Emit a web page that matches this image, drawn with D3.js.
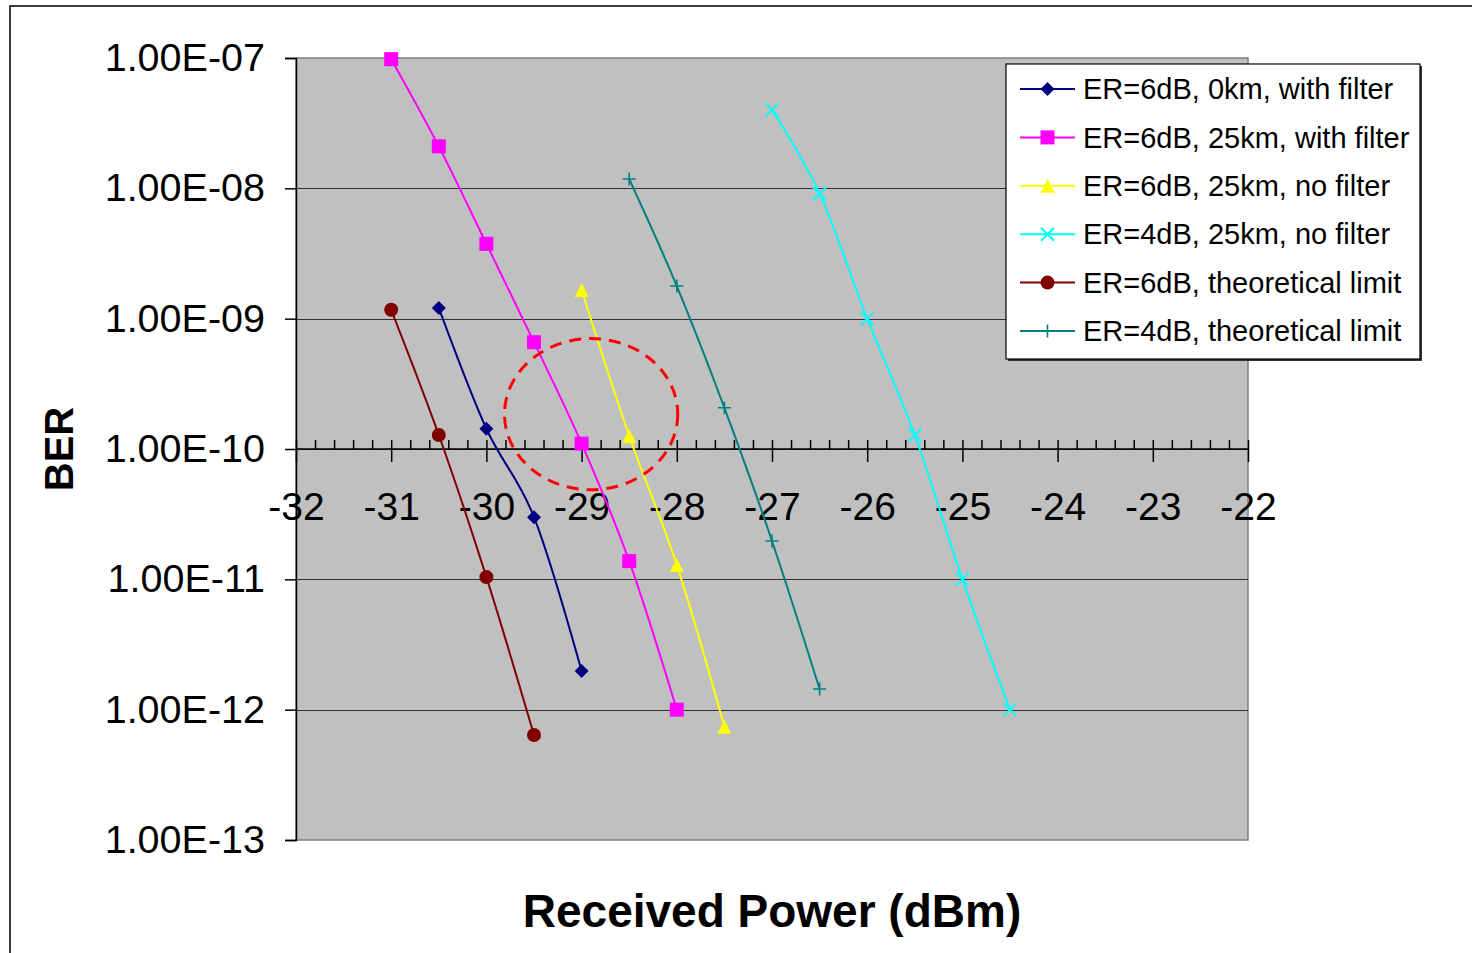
<!DOCTYPE html>
<html>
<head>
<meta charset="utf-8">
<script src="https://cdn.jsdelivr.net/npm/d3@7"></script>
<style>
  body { margin: 0; background: #fff; }
  svg { display: block; font-family: "Liberation Sans", Arial, sans-serif; }
</style>
</head>
<body>
<div id="chart"></div>
<script>
// received power (dBm) per series
const xTicks = [-32, -31, -30, -29, -28, -27, -26, -25, -24, -23, -22];
const yTicks = [1e-13, 1e-12, 1e-11, 1e-10, 1e-9, 1e-8, 1e-7];

const s0kmFilterX = [-30.5, -30, -29.5, -29];
const s0kmFilterY = [1.21e-9, 1.43e-10, 3.0e-11, 1.98e-12];

const s25kmFilterX = [-31, -30.5, -30, -29.5, -29, -28.5, -28];
const s25kmFilterY = [9.8e-8, 2.1e-8, 3.75e-9, 6.6e-10, 1.1e-10, 1.38e-11, 1.0e-12];

const s25kmNoFilterX = [-29, -28.5, -28, -27.5];
const s25kmNoFilterY = [1.66e-9, 1.26e-10, 1.29e-11, 7.4e-13];

const s4dbNoFilterX = [-27, -26.5, -26, -25.5, -25, -24.5];
const s4dbNoFilterY = [4.0e-8, 9.1e-9, 1.0e-9, 1.28e-10, 1.0e-11, 1.0e-12];

const s6dbLimitX = [-31, -30.5, -30, -29.5];
const s6dbLimitY = [1.17e-9, 1.28e-10, 1.04e-11, 6.4e-13];

const s4dbLimitX = [-28.5, -28, -27.5, -27, -26.5];
const s4dbLimitY = [1.18e-8, 1.78e-9, 2.07e-10, 1.97e-11, 1.44e-12];

const seriesNames = [
  "ER=6dB, 0km, with filter",
  "ER=6dB, 25km, with filter",
  "ER=6dB, 25km, no filter",
  "ER=4dB, 25km, no filter",
  "ER=6dB, theoretical limit",
  "ER=4dB, theoretical limit"
];

// dashed ellipse annotation, in data units
const circleCenter = [-28.9, 1.85e-10];

const series = [
  { name: seriesNames[0], xs: s0kmFilterX, ys: s0kmFilterY, color: "#000080", shape: "diamond" },
  { name: seriesNames[1], xs: s25kmFilterX, ys: s25kmFilterY, color: "#FF00FF", shape: "square" },
  { name: seriesNames[2], xs: s25kmNoFilterX, ys: s25kmNoFilterY, color: "#FFFF00", shape: "triangle" },
  { name: seriesNames[3], xs: s4dbNoFilterX, ys: s4dbNoFilterY, color: "#00FFFF", shape: "x" },
  { name: seriesNames[4], xs: s6dbLimitX, ys: s6dbLimitY, color: "#800000", shape: "circle" },
  { name: seriesNames[5], xs: s4dbLimitX, ys: s4dbLimitY, color: "#008080", shape: "plus" }
];

const width = 1472, height = 953;
const plot = { left: 296, right: 1248, top: 58, bottom: 840 };

const svg = d3.select("#chart").append("svg")
  .attr("width", width)
  .attr("height", height);

// outer chart frame (runs off the page right and bottom)
svg.append("path")
  .attr("d", "M10," + height + " V6 H" + width)
  .attr("fill", "none")
  .attr("stroke", "#000")
  .attr("stroke-width", 1.5);

const x = d3.scaleLinear().domain([-32, -22]).range([plot.left, plot.right]);
const y = d3.scaleLog().domain([1e-13, 1e-7]).range([plot.bottom, plot.top]);

// plot area
svg.append("rect")
  .attr("x", plot.left)
  .attr("y", plot.top)
  .attr("width", plot.right - plot.left)
  .attr("height", plot.bottom - plot.top)
  .attr("fill", "#C0C0C0")
  .attr("stroke", "#808080")
  .attr("stroke-width", 1.5);

// horizontal grid
svg.append("g").attr("class", "grid")
  .selectAll("line")
  .data(yTicks.slice(1, -1))
  .join("line")
  .attr("x1", plot.left)
  .attr("x2", plot.right)
  .attr("y1", d => Math.round(y(d)) + 0.5)
  .attr("y2", d => Math.round(y(d)) + 0.5)
  .attr("stroke", "#333")
  .attr("stroke-width", 1.2);

// y axis
const fmtE = d => {
  const e = Math.round(Math.log10(d));
  return "1.00E" + (e < 0 ? "-" : "+") + String(Math.abs(e)).padStart(2, "0");
};
const yAxis = svg.append("g")
  .attr("transform", "translate(" + plot.left + ",0)")
  .call(d3.axisLeft(y).tickValues(yTicks).tickSize(11).tickPadding(20).tickFormat(fmtE));
yAxis.select(".domain").attr("stroke", "#000").attr("stroke-width", 1.5);
yAxis.selectAll(".tick line").attr("stroke", "#000").attr("stroke-width", 1.5);
yAxis.selectAll(".tick text")
  .attr("font-size", 39.5)
  .attr("fill", "#000")
  .attr("font-family", "Liberation Sans, Arial, sans-serif");

// x axis, crossing at 1e-10
const xAxisY = Math.round(y(1e-10));
const minorTicks = d3.range(-32, -22 + 0.001, 0.2).map(v => +v.toFixed(1))
  .filter(v => !xTicks.includes(v));

const xMinor = svg.append("g")
  .attr("transform", "translate(0," + xAxisY + ")")
  .call(d3.axisTop(x).tickValues(minorTicks).tickSize(9).tickFormat(""));
xMinor.select(".domain").remove();
xMinor.selectAll(".tick line").attr("stroke", "#000").attr("stroke-width", 1.5);

const xAxis = svg.append("g")
  .attr("transform", "translate(0," + xAxisY + ")")
  .call(d3.axisBottom(x).tickValues(xTicks).tickSize(13).tickPadding(30).tickFormat(d => String(d)));
xAxis.select(".domain")
  .attr("d", "M" + plot.left + ",0H" + plot.right)
  .attr("stroke", "#000").attr("stroke-width", 1.5);
xAxis.selectAll(".tick line").attr("y1", -9).attr("stroke", "#000").attr("stroke-width", 1.5);
xAxis.selectAll(".tick text")
  .attr("font-size", 39)
  .attr("fill", "#000")
  .attr("font-family", "Liberation Sans, Arial, sans-serif");

// axis titles
svg.append("text")
  .attr("transform", "translate(73," + xAxisY + ") rotate(-90)")
  .attr("text-anchor", "middle")
  .attr("font-size", 40)
  .attr("font-weight", "bold")
  .text("BER");

svg.append("text")
  .attr("x", (plot.left + plot.right) / 2)
  .attr("y", 927)
  .attr("text-anchor", "middle")
  .attr("font-size", 46)
  .attr("font-weight", "bold")
  .text("Received Power (dBm)");

// markers
function drawMarker(g, shape, color) {
  const h = 7;
  if (shape === "diamond") {
    g.append("path").attr("d", `M0,${-h}L${h},0L0,${h}L${-h},0Z`).attr("fill", color);
  } else if (shape === "square") {
    g.append("rect").attr("x", -h).attr("y", -h).attr("width", 2 * h).attr("height", 2 * h).attr("fill", color);
  } else if (shape === "triangle") {
    g.append("path").attr("d", `M0,${-h}L${h},${h}L${-h},${h}Z`).attr("fill", color);
  } else if (shape === "circle") {
    g.append("circle").attr("r", 7).attr("fill", color);
  } else if (shape === "x") {
    const k = 6.5;
    g.append("path").attr("d", `M${-k},${-k}L${k},${k}M${k},${-k}L${-k},${k}`)
      .attr("stroke", color).attr("stroke-width", 2).attr("fill", "none");
  } else if (shape === "plus") {
    const k = 6.5;
    g.append("path").attr("d", `M${-k},0H${k}M0,${-k}V${k}`)
      .attr("stroke", color).attr("stroke-width", 1.6).attr("fill", "none");
  }
}

// Excel-style smoothed lines
const line = d3.line()
  .x(d => x(d[0]))
  .y(d => y(d[1]))
  .curve(d3.curveCardinal.tension(0));

const charts = svg.append("g").attr("class", "charts");
series.forEach(s => {
  const pts = s.xs.map((v, i) => [v, s.ys[i]]);
  charts.append("path")
    .attr("d", line(pts))
    .attr("fill", "none")
    .attr("stroke", s.color)
    .attr("stroke-width", 2);
  pts.forEach(p => {
    const g = charts.append("g").attr("transform", "translate(" + x(p[0]) + "," + y(p[1]) + ")");
    drawMarker(g, s.shape, s.color);
  });
});

// red dashed circle
const cx = x(circleCenter[0]), cy = y(circleCenter[1]);
svg.append("ellipse")
  .attr("cx", cx)
  .attr("cy", cy)
  .attr("rx", x(circleCenter[0] + 0.91) - cx)
  .attr("ry", y(circleCenter[1] / Math.pow(10, 0.58)) - cy)
  .attr("fill", "none")
  .attr("stroke", "#FF0000")
  .attr("stroke-width", 3)
  .attr("stroke-dasharray", "12,8");

// legend
const legend = svg.append("g").attr("transform", "translate(1006,64)");
legend.append("rect")
  .attr("x", 2).attr("y", 2)
  .attr("width", 414).attr("height", 295)
  .attr("fill", "#333");
legend.append("rect")
  .attr("width", 414).attr("height", 295)
  .attr("fill", "#fff")
  .attr("stroke", "#000")
  .attr("stroke-width", 1.2);

const row = legend.selectAll(".row")
  .data(series)
  .join("g")
  .attr("class", "row")
  .attr("transform", (d, i) => "translate(0," + (25 + i * 48.4) + ")");
row.append("line")
  .attr("x1", 14).attr("x2", 69)
  .attr("stroke", d => d.color)
  .attr("stroke-width", 2);
row.each(function (d) {
  const g = d3.select(this).append("g").attr("transform", "translate(41.5,0)");
  drawMarker(g, d.shape, d.color);
});
row.append("text")
  .attr("x", 77)
  .attr("dy", "0.35em")
  .attr("font-size", 29)
  .text(d => d.name);
</script>
</body>
</html>
